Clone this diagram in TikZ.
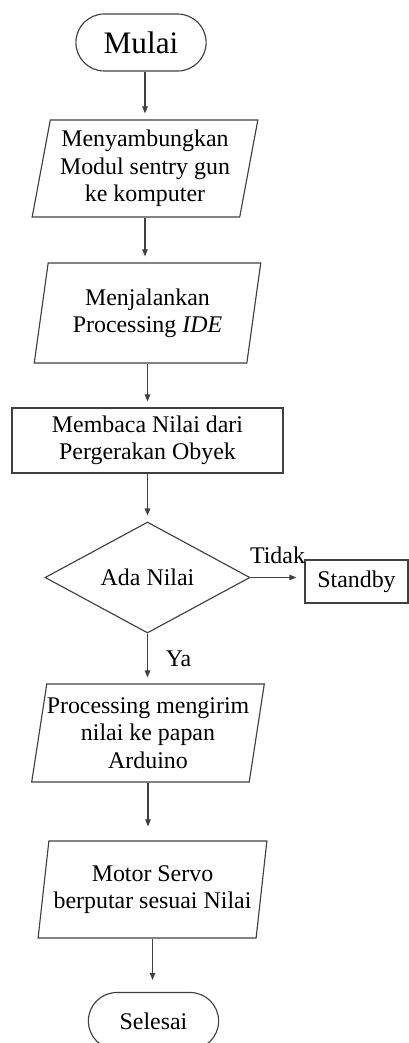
\documentclass[tikz,border=0pt]{standalone}
\usepackage{fontspec}
\setmainfont{Liberation Serif}
\usetikzlibrary{positioning, arrows.meta, shapes.geometric, shapes.misc}

\begin{document}
\begin{tikzpicture}[
    every node/.style={font=\fontsize{13.6pt}{15.6pt}\selectfont, align=center},
    term/.style={draw=black!75, line width=0.65pt, rounded rectangle, minimum width=2.84cm, minimum height=1.14cm},
    io/.style={draw=black!75, line width=0.65pt, trapezium, trapezium left angle=78, trapezium right angle=102, trapezium stretches=true, inner xsep=0pt, inner ysep=0pt, minimum width=4.54cm, minimum height=1.96cm},
    proc/.style={draw=black!75, line width=0.65pt, rectangle, minimum width=5.42cm, minimum height=1.30cm},
    decision/.style={draw=black!75, line width=0.65pt, diamond, aspect=1.85, minimum width=4.10cm, minimum height=2.22cm},
    arr/.style={-{Triangle[length=1.4mm, width=1.1mm]}, draw=black!75, line width=0.65pt, shorten >=0.12cm},
    lbl/.style={inner sep=1pt}
]
\useasboundingbox (0,0) rectangle (8.18,-20.86);
% Steps
\node[term, font=\fontsize{17.8pt}{21pt}\selectfont] (mulai) at (2.82,-0.85) {Mulai};
\node[io, minimum width=4.52cm, minimum height=1.94cm] (conn)   at (2.90,-3.37)  {Menyambungkan\\Modul sentry gun\\ke komputer};
\node[io, minimum height=2.00cm]                      (runide) at (2.95,-6.26)  {Menjalankan\\Processing \textit{IDE}};
\node[proc]                                           (baca)   at (2.95,-8.81)  {Membaca Nilai dari\\Pergerakan Obyek};
\node[decision]                                       (ada)    at (2.95,-11.55) {Ada Nilai};
\node[proc, minimum width=2.06cm, minimum height=0.86cm] (standby) at (7.13,-11.63) {Standby};
\node[io, minimum width=4.56cm]                       (kirim)  at (2.96,-14.66) {Processing mengirim\\nilai ke papan\\Arduino};
\node[io, minimum width=4.58cm, minimum height=1.94cm] (servo) at (3.05,-17.79) {Motor Servo\\berputar sesuai Nilai};
\node[term]                                           (selesai) at (3.07,-20.42) {Selesai};
% Flow
\draw[arr] (conn.north |- mulai.south) -- (conn.north);
\draw[arr] (conn.south) -- (conn.south |- runide.north);
\draw[arr] (runide.south) -- (runide.south |- baca.north);
\draw[arr] (baca.south) -- (baca.south |- ada.north);
\draw[arr, shorten >=0.16cm] (ada.east) -- node[lbl, above=0.22cm]{Tidak} (ada.east -| standby.west);
\draw[arr] (ada.south) -- node[lbl, right=0.32cm]{Ya} (ada.south |- kirim.north);
\draw[arr, shorten >=0.28cm] (kirim.south) -- (kirim.south |- servo.north);
\draw[arr, shorten >=0.24cm] (servo.south) -- (servo.south |- selesai.north);
\end{tikzpicture}
\end{document}
